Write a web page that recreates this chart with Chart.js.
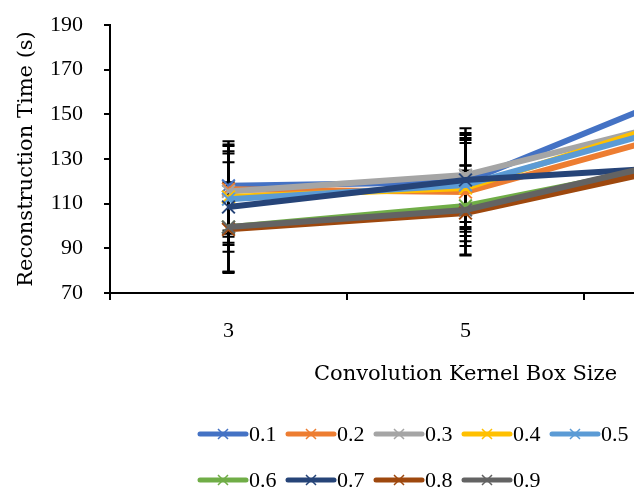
<!DOCTYPE html>
<html>
<head>
<meta charset="utf-8">
<script src="https://cdn.jsdelivr.net/npm/chart.js@4/dist/chart.umd.min.js"></script>
<style>
  html, body { margin: 0; padding: 0; overflow: hidden; background: #fff; }
  #wrap { width: 634px; height: 493px; overflow: hidden; position: relative; }
  canvas { display: block; }
</style>
</head>
<body>
<div id="wrap"><canvas id="lineChart" width="850" height="493" style="width:850px;height:493px"></canvas></div>
<script>
// kernel box sizes (the 7 column sits past the right edge of the picture)
const kernelSizes = ['3', '5', '7'];
const seriesNames = ['0.1', '0.2', '0.3', '0.4', '0.5', '0.6', '0.7', '0.8', '0.9'];
const seriesColors = ['#4472C4', '#ED7D31', '#A5A5A5', '#FFC000', '#5B9BD5', '#70AD47', '#264478', '#9E480E', '#636363'];

// reconstruction time (s)
const t01 = [118, 119.7, 163];
const t02 = [116.5, 115.2, 144.5];
const t03 = [115.5, 122.8, 149.5];
const t04 = [113, 117, 151];
const t05 = [112, 118.4, 148];
const t06 = [99.5, 109, 130];
const t07 = [108.5, 120.6, 127];
const t08 = [98.5, 105.8, 129];
const t09 = [99.5, 107.2, 132];
const times = [t01, t02, t03, t04, t05, t06, t07, t08, t09];

// error bar half-lengths
const e01 = [20, 21, 22];
const e02 = [20, 22, 22];
const e03 = [20.3, 21, 22];
const e04 = [20.5, 21.5, 22];
const e05 = [20.5, 21, 22];
const e06 = [20, 18, 22];
const e07 = [20, 21, 22];
const e08 = [19.5, 19, 22];
const e09 = [20, 20, 22];
const errors = [e01, e02, e03, e04, e05, e06, e07, e08, e09];

const tickFont = { family: 'Liberation Serif', size: 22 };
const titleFont = { family: 'DejaVu Serif', size: 21 };

// black error bars with caps
const errorBars = {
  id: 'errorBars',
  beforeDatasetsDraw(chart) {
    const ctx = chart.ctx;
    const x = chart.scales.x, y = chart.scales.y;
    ctx.save();
    ctx.strokeStyle = '#000';
    times.forEach((vals, i) => {
      vals.forEach((v, j) => {
        const px = x.getPixelForValue(j);
        const top = y.getPixelForValue(v + errors[i][j]);
        const bot = y.getPixelForValue(v - errors[i][j]);
        ctx.lineWidth = 2.5;
        ctx.beginPath();
        ctx.moveTo(px, top); ctx.lineTo(px, bot);
        ctx.stroke();
        ctx.lineWidth = 2;
        ctx.beginPath();
        ctx.moveTo(px - 6, top); ctx.lineTo(px + 6, top);
        ctx.moveTo(px - 6, bot); ctx.lineTo(px + 6, bot);
        ctx.stroke();
      });
    });
    ctx.restore();
  }
};

// legend laid out in a grid like the spreadsheet one
const gridLegend = {
  id: 'gridLegend',
  afterDraw(chart) {
    const ctx = chart.ctx;
    ctx.save();
    chart.data.datasets.forEach((ds, i) => {
      const col = i % 5, row = Math.floor(i / 5);
      const x0 = 198 + col * 88;
      const yc = 434 + row * 46;
      ctx.strokeStyle = ds.borderColor;
      ctx.lineWidth = 5;
      ctx.lineCap = 'round';
      ctx.beginPath();
      ctx.moveTo(x0 + 2, yc); ctx.lineTo(x0 + 48, yc);
      ctx.stroke();
      ctx.lineWidth = 1.5;
      ctx.lineCap = 'butt';
      ctx.beginPath();
      ctx.moveTo(x0 + 20, yc - 5); ctx.lineTo(x0 + 30, yc + 5);
      ctx.moveTo(x0 + 30, yc - 5); ctx.lineTo(x0 + 20, yc + 5);
      ctx.stroke();
      ctx.fillStyle = '#000';
      ctx.font = '22px "Liberation Serif"';
      ctx.textBaseline = 'middle';
      ctx.fillText(ds.label, x0 + 51, yc + 1);
    });
    ctx.restore();
  }
};

new Chart(document.getElementById('lineChart'), {
  type: 'line',
  data: {
    labels: kernelSizes,
    datasets: times.map((vals, i) => ({
      label: seriesNames[i],
      data: vals,
      borderColor: seriesColors[i],
      backgroundColor: seriesColors[i],
      borderWidth: 6,
      pointStyle: 'crossRot',
      pointRadius: 9,
      pointBorderWidth: 2,
      pointBorderColor: seriesColors[i],
      tension: 0,
      order: 8 - i
    }))
  },
  options: {
    responsive: false,
    animation: false,
    layout: { padding: { left: 0, right: 29, top: 25, bottom: 0 } },
    plugins: {
      legend: { display: false },
      tooltip: { enabled: false }
    },
    scales: {
      x: {
        offset: true,
        afterFit: s => { s.height = 200; },
        grid: { offset: true, drawOnChartArea: false, drawTicks: true, tickLength: 7, color: '#000', lineWidth: 2 },
        border: { display: true, color: '#000', width: 2 },
        ticks: { color: '#000', font: tickFont, padding: 18, maxRotation: 0 },
        title: { display: true, text: 'Convolution Kernel Box Size', color: '#000', font: titleFont, padding: { top: 0, bottom: 106 } }
      },
      y: {
        min: 70,
        max: 190,
        afterFit: s => { s.width = 110; s.paddingTop = 0; s.paddingBottom = 0; },
        grid: { drawOnChartArea: false, drawTicks: true, tickLength: 6, color: '#000', lineWidth: 2 },
        border: { display: true, color: '#000', width: 2 },
        ticks: { stepSize: 20, color: '#000', font: tickFont, padding: 21 },
        title: { display: true, text: 'Reconstruction Time (s)', color: '#000', font: titleFont, padding: { top: 14, bottom: 0 } }
      }
    }
  },
  plugins: [errorBars, gridLegend]
});
</script>
</body>
</html>
